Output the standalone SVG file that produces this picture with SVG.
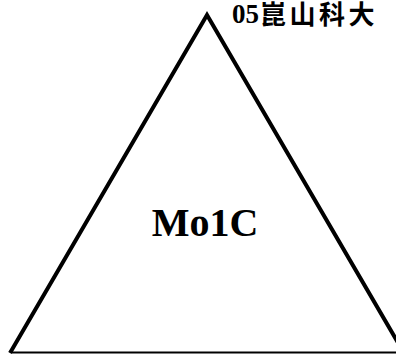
<svg xmlns="http://www.w3.org/2000/svg" width="396" height="354" viewBox="0 0 396 354">
<style>
.side{fill:none;stroke:#000;stroke-width:4;stroke-linejoin:miter}
.base{stroke:#000;stroke-width:2}
.t{font-family:"Liberation Serif","Noto Sans CJK TC",serif;font-weight:bold;fill:#000}
.cjk{font-family:"Noto Sans CJK TC",sans-serif;font-weight:bold;letter-spacing:3.5px}
</style>
<rect width="396" height="354" fill="#fff"/>
<g id="triangle">
<polyline class="side" points="10,353 207,15 404,353"/>
<line class="base" x1="12" y1="352.5" x2="396" y2="352.5"/>
</g>
<g id="label-top">
<text class="t" x="232" y="23" font-size="27">05<tspan class="cjk" font-size="26" dx="1" dy="1">崑山科大</tspan></text>
</g>
<g id="label-center">
<text class="t" x="205" y="236" font-size="40" text-anchor="middle">Mo1C</text>
</g>
</svg>
